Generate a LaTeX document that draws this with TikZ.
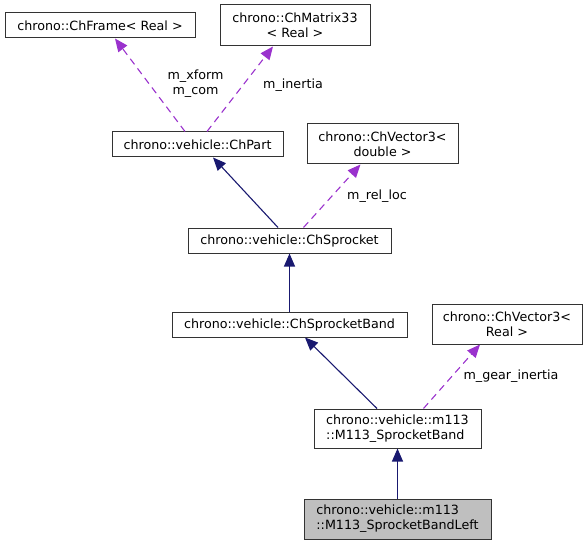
\documentclass[tikz,border=0pt]{standalone}
\usepackage{fontspec}
\setmainfont{DejaVu Sans}
\usetikzlibrary{arrows.meta}
\definecolor{navyedge}{HTML}{191970}
\definecolor{purpleedge}{HTML}{9A32CD}
\definecolor{boxgray}{HTML}{BFBFBF}
\begin{document}
\begin{tikzpicture}[x=1pt,y=-1pt,
  cls/.style={draw=black!80, line width=1pt, inner sep=0pt, rectangle,
    font=\fontsize{12.7}{15}\selectfont, align=center},
  lbl/.style={inner sep=0pt, font=\fontsize{12.7}{15}\selectfont, align=center},
  inherit/.style={draw=navyedge, line width=1.1pt, -{Triangle[length=13pt,width=11pt]}},
  usage/.style={draw=purpleedge, line width=1.1pt, dash pattern=on 7pt off 5pt,
    -{Triangle[length=13pt,width=11pt,fill=purpleedge]}},
]
\useasboundingbox (0,0) rectangle (588,545);

\node[cls, minimum width=190pt, minimum height=25pt] (frame) at (100,25.5) {chrono::ChFrame< Real >};
\node[cls, minimum width=150pt, minimum height=41pt] (mat) at (295,25.5) {chrono::ChMatrix33\\< Real >};
\node[cls, minimum width=171pt, minimum height=25pt] (part) at (197.5,144.5) {chrono::vehicle::ChPart};
\node[cls, minimum width=151pt, minimum height=40pt] (vecd) at (382.5,144) {chrono::ChVector3<\\double >};
\node[cls, minimum width=203pt, minimum height=25pt] (spr) at (289.5,240.5) {chrono::vehicle::ChSprocket};
\node[cls, minimum width=235pt, minimum height=25pt] (band) at (289.5,324.5) {chrono::vehicle::ChSprocketBand};
\node[cls, minimum width=150pt, minimum height=40pt] (vecr) at (507,324) {chrono::ChVector3<\\Real >};
\node[cls, minimum width=167pt, minimum height=39pt, align=left] (m113) at (397.5,428.5) {chrono::vehicle::m113\\::M113\_SprocketBand};
\node[cls, minimum width=187pt, minimum height=40pt, align=left, fill=boxgray] (left) at (397.5,519) {chrono::vehicle::m113\\::M113\_SprocketBandLeft};

\draw[usage] ([xshift=-12.5pt]part.north) -- ([xshift=15pt]frame.south);
\draw[usage] ([xshift=9.5pt]part.north) -- ([xshift=-22pt]mat.south);
\draw[inherit] ([xshift=-11.5pt]spr.north) -- ([xshift=15.5pt]part.south);
\draw[usage] ([xshift=14pt]spr.north) -- ([xshift=-22pt]vecd.south);
\draw[inherit] (band.north) -- (spr.south);
\draw[inherit] ([xshift=-20.5pt]m113.north) -- ([xshift=15.5pt]band.south);
\draw[usage] ([xshift=26pt]m113.north) -- ([xshift=-27pt]vecr.south);
\draw[inherit] (left.north) -- (m113.south);

\node[lbl] (lxform) at (195.5,84) {m\_xform\\m\_com};
\node[lbl] (linertia) at (293,85) {m\_inertia};
\node[lbl] (lrel) at (377,196) {m\_rel\_loc};
\node[lbl] (lgear) at (511,376) {m\_gear\_inertia};
\end{tikzpicture}
\end{document}
